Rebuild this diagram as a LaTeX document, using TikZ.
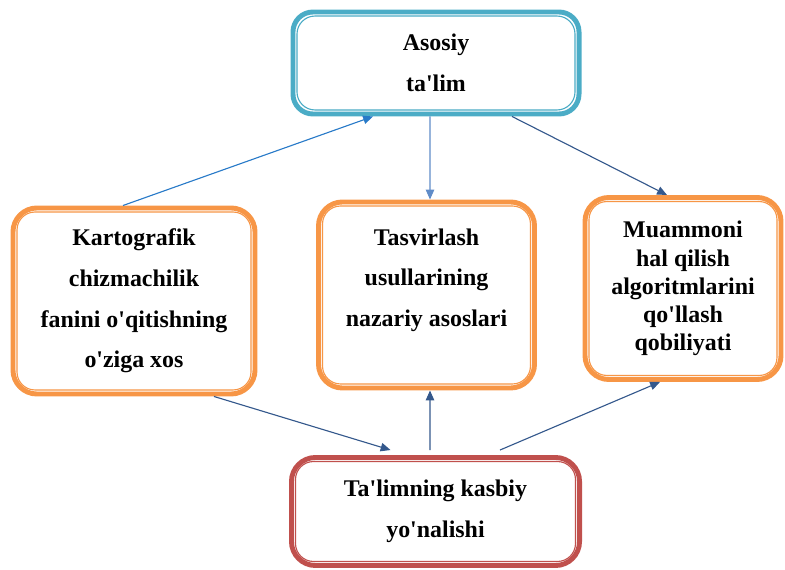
\documentclass[tikz,border=0pt]{standalone}
\usepackage{fontspec}
\setmainfont{Liberation Serif}
\usetikzlibrary{positioning,calc,arrows.meta}

\definecolor{tealc}{RGB}{75,172,198}
\definecolor{orangec}{RGB}{247,150,70}
\definecolor{redc}{RGB}{192,80,77}
\definecolor{arrblue}{RGB}{40,122,200}
\definecolor{arrlight}{RGB}{96,140,200}
\definecolor{arrdark}{RGB}{52,88,140}

% straight apostrophe
\newcommand{\ap}{\textquotesingle}

\begin{document}
\begin{tikzpicture}[x=0.025cm, y=0.025cm,
        box/.style={draw, line width=3.5pt, rounded corners=0.6cm, fill=white,
          align=center, font=\bfseries\fontsize{17pt}{29pt}\selectfont},
        inner line/.style={line width=0.8pt, rounded corners=0.45cm},
        arrow/.style={-{Triangle[length=7pt,width=6pt]}, line width=0.8pt, arrdark}]

        % page frame
        \useasboundingbox (0,0) rectangle (785,-570);

        %%% boxes
        % top: the basic training
        \node[box, draw=tealc, rounded corners=0.5cm, minimum width=7.15cm, minimum height=2.55cm]
          (top) at (436,-63) {Asosiy\\ta\ap lim};

        % middle row
        \node[box, draw=orangec, minimum width=6.05cm, minimum height=4.65cm]
          (lft) at (134,-301) {Kartografik\\chizmachilik\\fanini o\ap qitishning\\o\ap ziga xos};
        \node[box, draw=orangec, minimum width=5.4cm, minimum height=4.65cm]
          (mid) at (426.5,-295) {Tasvirlash\\usullarining\\nazariy asoslari\\[-13pt]\strut};
        \node[box, draw=orangec, minimum width=4.9cm, minimum height=4.55cm,
          font=\bfseries\fontsize{17pt}{20pt}\selectfont]
          (rgt) at (683,-288.5) {Muammoni\\hal qilish\\algoritmlarini\\qo\ap llash\\qobiliyati};

        % bottom: professional direction
        \node[box, draw=redc, minimum width=7.2cm, minimum height=2.7cm]
          (bot) at (435.5,-511.5) {Ta\ap limning kasbiy\\yo\ap nalishi};

        % thin inner borders
        \foreach \n/\c in {top/tealc, lft/orangec, mid/orangec, rgt/orangec, bot/redc}
          \draw[inner line, draw=\c] ($(\n.north west)+(6.5,-6.5)$) rectangle ($(\n.south east)+(-6.5,6.5)$);

        %%% arrows
        \draw[arrow, arrblue] ($(lft.north)+(-11,0)$) -- ($(top.south)+(-63,0)$);
        \draw[arrow, arrlight] ($(top.south)+(-6,0)$) -- ($(mid.north)+(3.5,0)$);
        \draw[arrow] ($(top.south)+(76,0)$) -- ($(rgt.north)+(-16,0)$);
        \draw[arrow] ($(lft.south)+(80,0)$) -- ($(bot.north)+(-45,5)$);
        \draw[arrow] ($(bot.north)+(-5.5,5)$) -- ($(mid.south)+(3.5,0)$);
        \draw[arrow] ($(bot.north)+(64.5,5)$) -- ($(rgt.south)+(-23,0)$);
      \end{tikzpicture}
\end{document}
